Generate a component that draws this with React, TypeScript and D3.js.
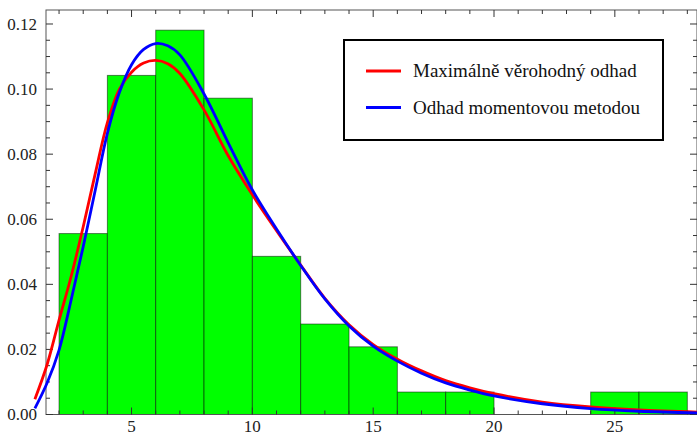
import React, { useEffect, useRef } from 'react';
import * as d3 from 'd3';

// histogram (bin width 2), density values
const binStarts = [2, 4, 6, 8, 10, 12, 14, 16, 18, 20, 22, 24, 26];
const binDensity = [0.0556, 0.1042, 0.1181, 0.0972, 0.0486, 0.0278, 0.0208, 0.0069, 0.0069, 0, 0, 0.0069, 0.0069];

// fitted curves
const curveX = [1, 1.5, 2, 2.5, 3, 3.5, 4, 4.5, 5, 5.5, 6, 6.5, 7, 8, 9, 10, 11, 12, 13, 14, 15, 16, 17, 18, 19, 20, 22, 24, 26, 28.6];
const mleY = [0.0047, 0.0152, 0.029, 0.0424, 0.0577, 0.0741, 0.0897, 0.1, 0.1052, 0.108, 0.1088, 0.1078, 0.1048, 0.0936, 0.0795, 0.0675, 0.0565, 0.0459, 0.0357, 0.0276, 0.0215, 0.017, 0.0134, 0.0104, 0.0082, 0.0064, 0.0038, 0.0023, 0.0014, 0.0007];
const momY = [0.0019, 0.0096, 0.0198, 0.0352, 0.0516, 0.069, 0.0864, 0.099, 0.1075, 0.1122, 0.114, 0.1133, 0.1105, 0.0985, 0.0835, 0.069, 0.057, 0.0458, 0.0355, 0.0272, 0.021, 0.0164, 0.0127, 0.0097, 0.0075, 0.0057, 0.0033, 0.0018, 0.001, 0.0005];

const seriesNames = ['Maximálně věrohodný odhad', 'Odhad momentovou metodou'];
const seriesColors = ['#ff0000', '#0000ff'];

const xMajor = [5, 10, 15, 20, 25];
const yMajor = [0, 0.02, 0.04, 0.06, 0.08, 0.1, 0.12];

const W = 697;
const H = 435;
const FONT = 'Liberation Serif, Times New Roman, DejaVu Serif, serif';

const App = () => {
  const svgRef = useRef<SVGSVGElement>(null);

  useEffect(() => {
    const svg = d3.select(svgRef.current);
    svg.selectAll('*').remove();

    const x = d3.scaleLinear().domain([1.46, 28.4]).range([46, 697]);
    const y = d3.scaleLinear().domain([0, 0.1243]).range([414.5, 10]);

    // bars
    svg
      .append('g')
      .selectAll('rect')
      .data(binStarts.map((s, i) => ({ s, v: binDensity[i] })).filter((d) => d.v > 0))
      .join('rect')
      .attr('x', (d) => x(d.s))
      .attr('y', (d) => y(d.v))
      .attr('width', (d) => x(d.s + 2) - x(d.s))
      .attr('height', (d) => y(0) - y(d.v))
      .attr('fill', '#00ff00')
      .attr('stroke', '#000')
      .attr('stroke-opacity', 0.5)
      .attr('stroke-width', 1);

    // frame
    const [x0, x1] = x.range();
    const [y0, y1] = y.range();
    svg
      .append('rect')
      .attr('x', x0)
      .attr('y', y1)
      .attr('width', x1 - x0)
      .attr('height', y0 - y1)
      .attr('fill', 'none')
      .attr('stroke', '#555')
      .attr('stroke-width', 1);

    // ticks (inside, on all four sides)
    const xMinor = d3.range(2, 29, 1).filter((v) => !xMajor.includes(v));
    const yMinor = d3.range(0, 0.1241, 0.005).filter((v) => !yMajor.some((m) => Math.abs(m - v) < 1e-6));
    const tk = svg.append('g').attr('stroke', '#333').attr('stroke-width', 1);
    const xt = [...xMajor.map((v) => ({ v, l: 7 })), ...xMinor.map((v) => ({ v, l: 4 }))];
    const yt = [...yMajor.map((v) => ({ v, l: 7 })), ...yMinor.map((v) => ({ v, l: 4 }))];
    xt.forEach((t) => {
      tk.append('line').attr('x1', x(t.v)).attr('x2', x(t.v)).attr('y1', y0).attr('y2', y0 - t.l);
      tk.append('line').attr('x1', x(t.v)).attr('x2', x(t.v)).attr('y1', y1).attr('y2', y1 + t.l);
    });
    yt.forEach((t) => {
      tk.append('line').attr('x1', x0).attr('x2', x0 + t.l).attr('y1', y(t.v)).attr('y2', y(t.v));
      tk.append('line').attr('x1', x1).attr('x2', x1 - t.l).attr('y1', y(t.v)).attr('y2', y(t.v));
    });

    // tick labels
    svg
      .append('g')
      .selectAll('text')
      .data(xMajor)
      .join('text')
      .attr('x', (d) => x(d))
      .attr('y', 431.5)
      .attr('text-anchor', 'middle')
      .style('font-family', FONT)
      .style('font-size', '17px')
      .attr('fill', '#222')
      .text((d) => d);

    svg
      .append('g')
      .selectAll('text')
      .data(yMajor)
      .join('text')
      .attr('x', 37)
      .attr('y', (d) => y(d))
      .attr('dy', '0.35em')
      .attr('text-anchor', 'end')
      .style('font-family', FONT)
      .style('font-size', '17px')
      .attr('fill', '#222')
      .text((d) => d.toFixed(2));

    // curves
    const line = d3
      .line<number>()
      .x((_, i) => x(curveX[i]))
      .y((d) => y(d))
      .curve(d3.curveCatmullRom.alpha(0.5));
    [mleY, momY].forEach((ys, i) => {
      svg
        .append('path')
        .attr('d', line(ys))
        .attr('fill', 'none')
        .attr('stroke', seriesColors[i])
        .attr('stroke-width', 2.8);
    });

    // legend
    const lg = svg.append('g');
    lg.append('rect')
      .attr('x', 344)
      .attr('y', 40)
      .attr('width', 319)
      .attr('height', 100)
      .attr('fill', '#fff')
      .attr('stroke', '#000')
      .attr('stroke-width', 2);
    seriesNames.forEach((name, i) => {
      const ly = 71 + i * 36.5;
      lg.append('line')
        .attr('x1', 366)
        .attr('x2', 401)
        .attr('y1', ly)
        .attr('y2', ly)
        .attr('stroke', seriesColors[i])
        .attr('stroke-width', 3);
      lg.append('text')
        .attr('x', 413)
        .attr('y', ly)
        .attr('dy', '0.33em')
        .style('font-family', FONT)
        .style('font-size', '19px')
        .attr('fill', '#111')
        .text(name);
    });
  }, []);

  return (
    <svg
      ref={svgRef}
      width={W}
      height={H}
      style={{ position: 'fixed', left: 0, top: 0, background: '#fff' }}
    />
  );
};

export default App;
